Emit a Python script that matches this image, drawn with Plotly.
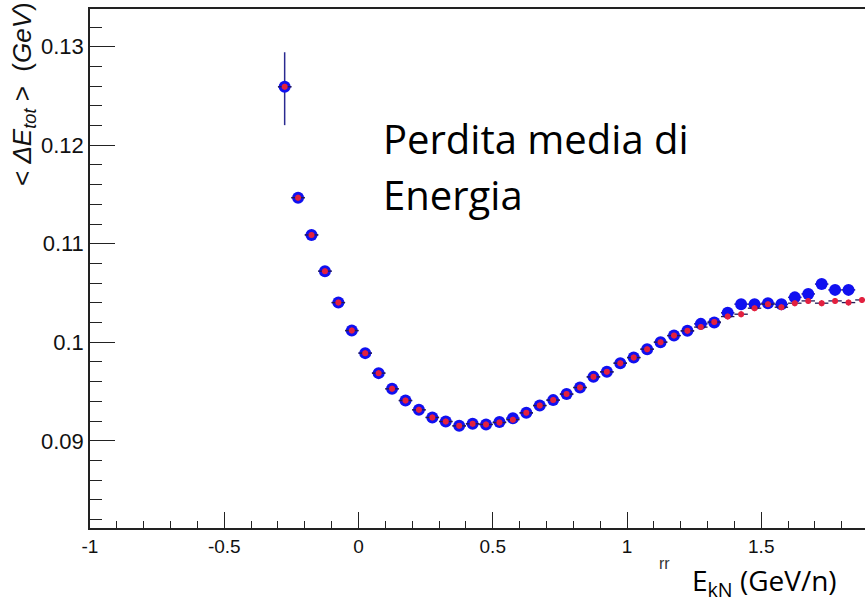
import plotly.graph_objects as go

# ---------------- data ----------------
log_ekn = [-0.275, -0.225, -0.175, -0.125, -0.075, -0.025, 0.025, 0.075, 0.125, 0.175,
           0.225, 0.275, 0.325, 0.375, 0.425, 0.475, 0.525, 0.575, 0.625, 0.675,
           0.725, 0.775, 0.825, 0.875, 0.925, 0.975, 1.025, 1.075, 1.125, 1.175,
           1.225, 1.275, 1.325, 1.375, 1.425, 1.475, 1.525, 1.575, 1.625, 1.675,
           1.725, 1.775, 1.825, 1.875]

de_blue = [0.12594, 0.11468, 0.11090, 0.10722, 0.10403, 0.10119, 0.09890, 0.09687, 0.09528, 0.09409,
           0.09315, 0.09237, 0.09196, 0.09152, 0.09173, 0.09166, 0.09190, 0.09230, 0.09284, 0.09358,
           0.09413, 0.09474, 0.09541, 0.09649, 0.09700, 0.09788, 0.09845, 0.09930, 0.10001, 0.10068,
           0.10116, 0.10187, 0.10200, 0.10299, 0.10387, 0.10387, 0.10397, 0.10385, 0.10456, 0.10491,
           0.10591, 0.10532, 0.10532]
de_blue_err_up = [0.0035] + [0.0003] * 42
de_blue_err_dn = [0.0039] + [0.0003] * 42

de_red = [0.12594, 0.11468, 0.11090, 0.10722, 0.10403, 0.10119, 0.09890, 0.09687, 0.09528, 0.09409,
          0.09315, 0.09237, 0.09196, 0.09152, 0.09173, 0.09166, 0.09185, 0.09215, 0.09284, 0.09358,
          0.09413, 0.09474, 0.09541, 0.09649, 0.09700, 0.09788, 0.09845, 0.09930, 0.10001, 0.10068,
          0.10116, 0.10154, 0.10206, 0.10261, 0.10285, 0.10346, 0.10387, 0.10356, 0.10397, 0.10420,
          0.10397, 0.10420, 0.10403, 0.10430]
de_red_err = [0.0003] * 44

bin_half_width = 0.025

x_tickvals = [-1, -0.5, 0, 0.5, 1, 1.5]
x_ticktext = ["-1", "-0.5", "0", "0.5", "1", "1.5"]
y_tickvals = [0.09, 0.10, 0.11, 0.12, 0.13]
y_ticktext = ["0.09", "0.1", "0.11", "0.12", "0.13"]

x_range = [-1.0, 1.8864]
y_range = [0.08115, 0.13383]

# ---------------- figure ----------------
fig = go.Figure()

fig.add_trace(go.Scatter(
    x=log_ekn[:len(de_blue)], y=de_blue, mode="markers",
    marker=dict(color="#1010f0", size=12, line=dict(width=0)),
    error_x=dict(type="constant", value=bin_half_width, color="#1c1c78", thickness=1.5, width=0),
    error_y=dict(type="data", array=de_blue_err_up, arrayminus=de_blue_err_dn, symmetric=False,
                 color="#2a2a90", thickness=1.5, width=0),
    showlegend=False))

fig.add_trace(go.Scatter(
    x=log_ekn, y=de_red, mode="markers",
    marker=dict(color="#e3203f", size=6, line=dict(width=0)),
    error_x=dict(type="constant", value=bin_half_width, color="#231a55", thickness=1.3, width=0),
    error_y=dict(type="data", array=de_red_err, color="#c0203a", thickness=1.3, width=0),
    showlegend=False))

tick_font = "Liberation Sans, Arial, sans-serif"

fig.update_layout(
    width=865, height=602,
    margin=dict(l=90, r=0, t=9, b=74),
    paper_bgcolor="white", plot_bgcolor="white",
    xaxis=dict(range=x_range, tickvals=x_tickvals, ticktext=x_ticktext,
               showgrid=False, zeroline=False, showline=True, linecolor="#222", linewidth=1.5,
               mirror=True, ticks="inside", ticklen=16, tickwidth=1.3, tickcolor="#222",
               tickfont=dict(family=tick_font, size=19, color="#111"),
               minor=dict(dtick=0.1, tick0=0, ticks="inside", ticklen=7, tickwidth=1.2, tickcolor="#222")),
    yaxis=dict(range=y_range, tickvals=y_tickvals, ticktext=y_ticktext,
               showgrid=False, zeroline=False, showline=True, linecolor="#222", linewidth=1.5,
               ticks="inside", ticklen=25, tickwidth=1.3, tickcolor="#222",
               tickfont=dict(family=tick_font, size=22, color="#111"),
               minor=dict(dtick=0.002, tick0=0.09, ticks="inside", ticklen=12, tickwidth=1.2, tickcolor="#222")),
)

# y-axis title (ROOT style, top aligned)
fig.add_annotation(
    text="&lt; <i>ΔE</i><sub><i>tot</i></sub> &gt;  (<i>GeV</i>)",
    xref="paper", yref="paper", x=(23 - 90) / 775, y=1 + 9 / 519,
    xanchor="center", yanchor="top", textangle=-90, showarrow=False,
    font=dict(family=tick_font, size=26, color="#111"))

# overlay text
fig.add_annotation(text="Perdita media di", xref="paper", yref="paper",
                   x=(381 - 90) / 775, y=1 - (138 - 9) / 519, xanchor="left", yanchor="middle",
                   showarrow=False, font=dict(family="Open Sans", size=40, color="black"))
fig.add_annotation(text="Energia", xref="paper", yref="paper",
                   x=(381 - 90) / 775, y=1 - (195 - 9) / 519, xanchor="left", yanchor="middle",
                   showarrow=False, font=dict(family="Open Sans", size=40, color="black"))

fig.add_annotation(text="E<sub>kN</sub> (GeV/n)", xref="paper", yref="paper",
                   x=(690 - 90) / 775, y=1 - (582 - 9) / 519, xanchor="left", yanchor="middle",
                   showarrow=False, font=dict(family="Open Sans", size=28, color="black"))
fig.add_annotation(text="rr", xref="paper", yref="paper",
                   x=(664 - 90) / 775, y=1 - (563 - 9) / 519, xanchor="center", yanchor="middle",
                   showarrow=False, font=dict(family=tick_font, size=16, color="#333"))

fig.write_html("out.html")
